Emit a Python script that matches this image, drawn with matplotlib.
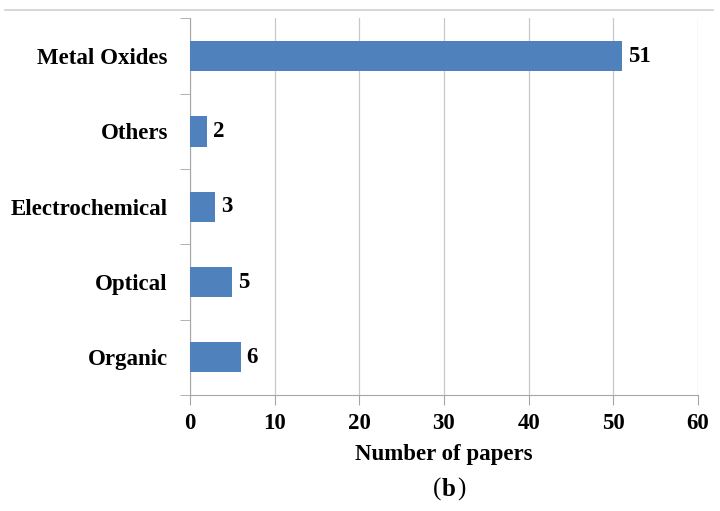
import matplotlib.pyplot as plt
import matplotlib
from matplotlib.lines import Line2D
import numpy as np

categories = ['Organic', 'Optical', 'Electrochemical', 'Others', 'Metal Oxides']
papers = [6, 5, 3, 2, 51]
xticks = [0, 10, 20, 30, 40, 50, 60]

matplotlib.rcParams['font.family'] = ['Liberation Serif', 'DejaVu Serif']

fig = plt.figure(figsize=(7.2, 5.11), dpi=100)
ax = fig.add_axes([0.2639, 0.227, 0.7055, 0.7368])

y = np.arange(len(categories))
ax.barh(y, papers, height=0.4, color='#4F81BD', zorder=3)
for yi, v in zip(y, papers):
    ax.text(v + 0.7, yi, str(v), va='center', ha='left', fontsize=16.5, fontweight='bold')

ax.set_xlim(0, 60)
ax.set_ylim(-0.5, len(categories) - 0.5)
ax.set_xticks(xticks)
ax.set_xticklabels([str(t) for t in xticks], fontsize=16.5, fontweight='bold')
ax.set_yticks(y)
ax.set_yticklabels(categories, fontsize=16.5, fontweight='bold')
ax.tick_params(axis='y', which='major', length=0, pad=16)
ax.set_yticks(np.arange(-0.5, len(categories), 1.0), minor=True)
ax.tick_params(axis='y', which='minor', length=7, color='#a6a6a6', direction='out')
ax.tick_params(axis='x', length=7, color='#a6a6a6', pad=6)

ax.grid(True, axis='x', color='#c8c8c8', lw=0.9, zorder=0)
for s in ['top', 'right']:
    ax.spines[s].set_visible(False)
for s in ['left', 'bottom']:
    ax.spines[s].set_color('#a6a6a6')

ax.set_xlabel('Number of papers', fontsize=16.5, fontweight='bold', labelpad=7)

# gray rule across the top
fig.add_artist(Line2D([0.007, 0.99], [0.98, 0.98], color='#d0d0d0', lw=1.2))
# caption: plain parentheses around a bold b
fig.text(0.6125, 0.043, '(', ha='right', va='center', fontsize=18)
fig.text(0.6135, 0.043, 'b', ha='left', va='center', fontsize=18, fontweight='bold')
fig.text(0.6345, 0.043, ')', ha='left', va='center', fontsize=18)

fig.savefig('out.png', dpi=100)
